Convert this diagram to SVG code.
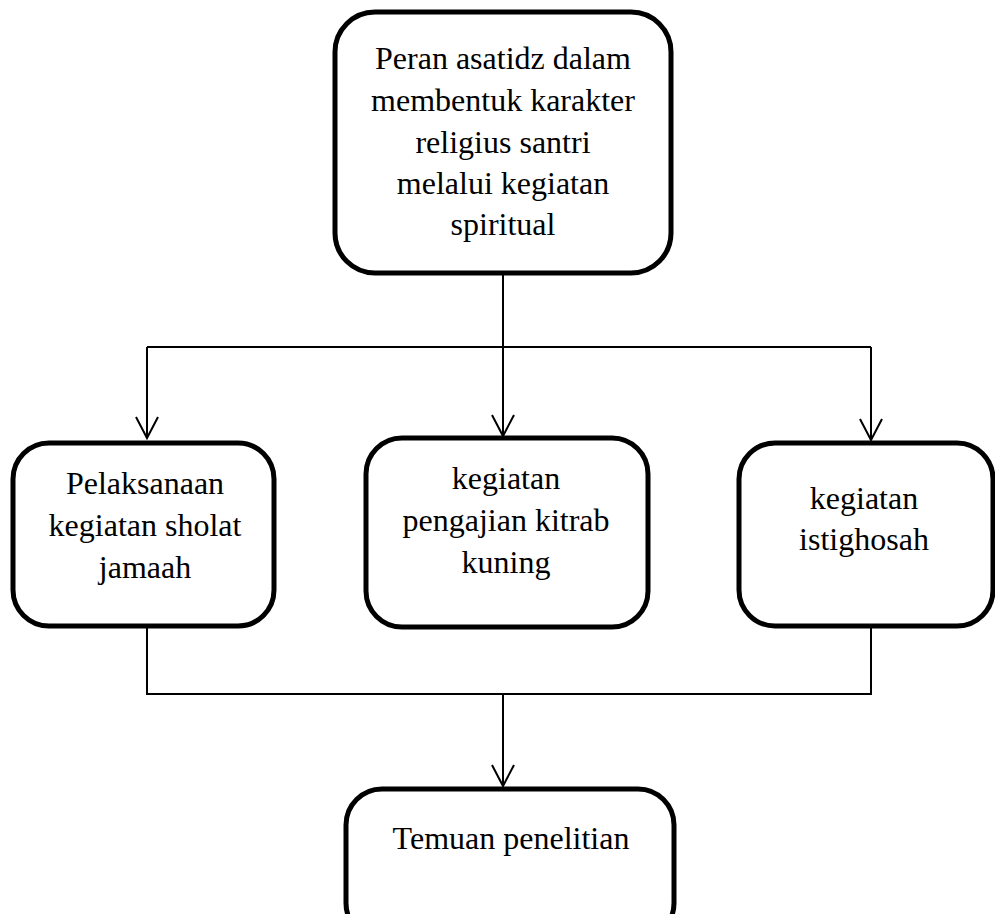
<svg xmlns="http://www.w3.org/2000/svg" width="995" height="914" viewBox="0 0 995 914">
<style>
.box{fill:#fff;stroke:#000;stroke-width:5}
.t{font-family:"Liberation Serif","Times New Roman",serif;font-size:32px;fill:#000;text-anchor:middle}
.ln{fill:none;stroke:#000;stroke-width:2}
.ah{fill:none;stroke:#000;stroke-width:2}
</style>
<rect width="995" height="914" fill="#fff"/>
<g id="connectors">
<path class="ln" d="M503 274 V347"/>
<path class="ln" d="M147 347 H871"/>
<path class="ln" d="M147 347 V438 M503 347 V436 M871 347 V440"/>
<path class="ah" d="M136 417 L147 438 L158 417 M492 415 L503 436 L514 415 M860 419 L871 440 L882 419"/>
<path class="ln" d="M147 627 V694 H871 V627"/>
<path class="ln" d="M503 694 V786"/>
<path class="ah" d="M492 765 L503 786 L514 765"/>
</g>
<g id="n1">
<rect class="box" x="335" y="12" width="336" height="261" rx="40"/>
<text class="t" x="503" y="69">Peran asatidz dalam</text>
<text class="t" x="503" y="111">membentuk karakter</text>
<text class="t" x="503" y="153">religius santri</text>
<text class="t" x="503" y="194">melalui kegiatan</text>
<text class="t" x="503" y="235">spiritual</text>
</g>
<g id="n2">
<rect class="box" x="13" y="443" width="261" height="183" rx="36"/>
<text class="t" x="145" y="494">Pelaksanaan</text>
<text class="t" x="145" y="536">kegiatan sholat</text>
<text class="t" x="145" y="578">jamaah</text>
</g>
<g id="n3">
<rect class="box" x="366" y="438" width="282" height="189" rx="36"/>
<text class="t" x="506" y="489">kegiatan</text>
<text class="t" x="506" y="531">pengajian kitrab</text>
<text class="t" x="506" y="573">kuning</text>
</g>
<g id="n4">
<rect class="box" x="739" y="443" width="254" height="183" rx="36"/>
<text class="t" x="864" y="509">kegiatan</text>
<text class="t" x="864" y="550">istighosah</text>
</g>
<g id="n5">
<rect class="box" x="346" y="789" width="328" height="150" rx="36"/>
<text class="t" x="511" y="849">Temuan penelitian</text>
</g>
</svg>
